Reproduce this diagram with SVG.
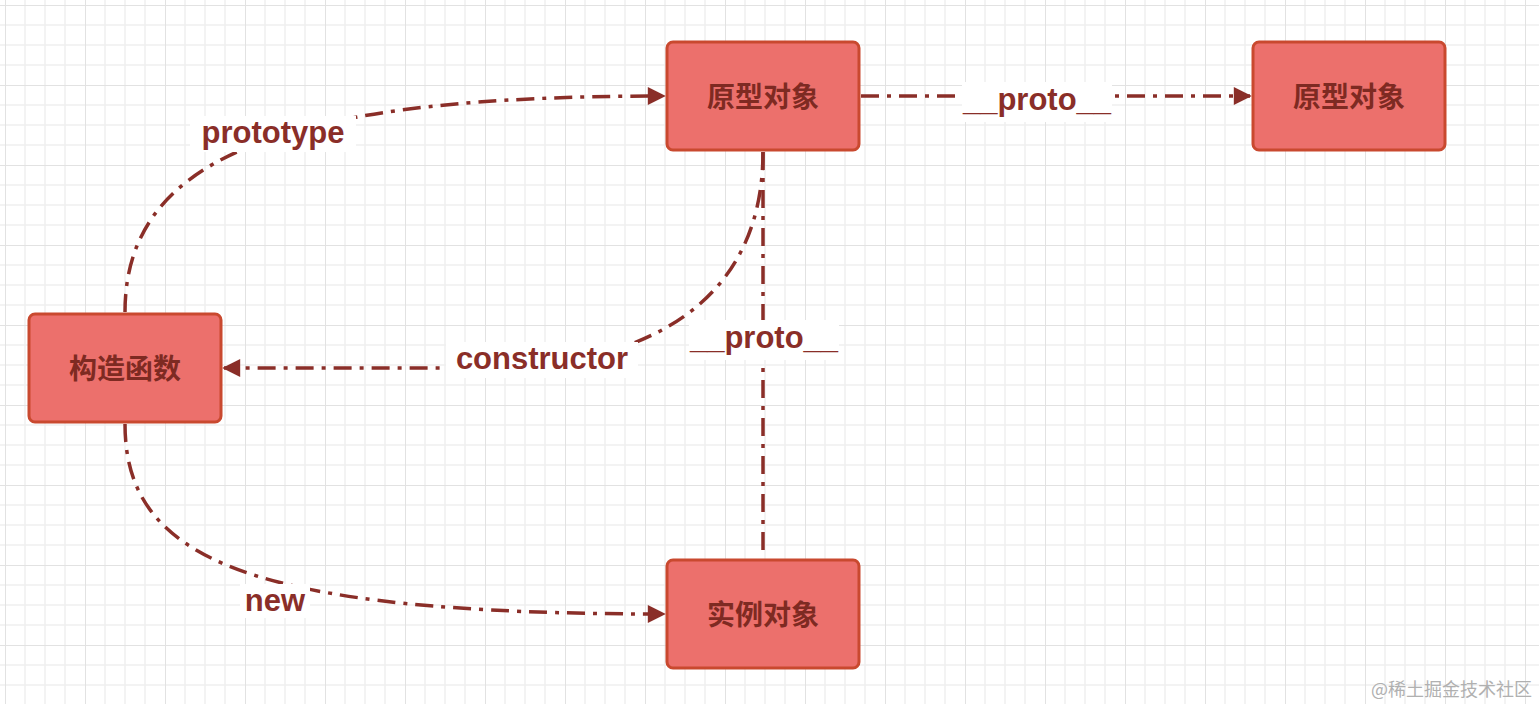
<svg xmlns="http://www.w3.org/2000/svg" width="1539" height="704" viewBox="0 0 1539 704">
<defs>
<pattern id="g" width="80" height="80" patternUnits="userSpaceOnUse" x="5" y="5">
<path d="M20 0V80M40 0V80M60 0V80M0 20H80M0 40H80M0 60H80" stroke="#efefef" stroke-width="1.5" fill="none"/>
<path d="M0 0V80M0 0H80" stroke="#e2e2e2" stroke-width="2" fill="none"/>
</pattern>
<marker id="a" viewBox="0 0 10 10" refX="9" refY="5" markerWidth="26" markerHeight="18" markerUnits="userSpaceOnUse" orient="auto"><path d="M0 0L10 5L0 10z" fill="#8a2e28"/></marker>
<style>
.n rect{fill:#ec706c;stroke:#c9492f;stroke-width:3}
.n text,.l{font-family:"Noto Sans CJK SC","Liberation Sans",sans-serif;font-weight:bold;font-size:28px;fill:#7e2a22;text-anchor:middle}
.c path{fill:none;stroke:#8a2e28;stroke-width:3.5;stroke-dasharray:18 8 4 8}
.l{font-family:"Liberation Sans",sans-serif;font-size:31px;fill:#8a2e28}
.bg{fill:#fff}
</style>
</defs>
<rect width="1539" height="704" fill="#fff"/>
<rect width="1539" height="704" fill="url(#g)"/>
<g class="c" id="connectors">
<path d="M125,312 C125,150 300,96 664,96" marker-end="url(#a)"/>
<path d="M861,96 L1250,96" marker-end="url(#a)"/>
<path d="M763,152 C763,300 650,368 480,368 L224,368" marker-end="url(#a)"/>
<path d="M763,152 L763,558"/>
<path d="M125,424 C125,560 250,614 664,614" marker-end="url(#a)"/>
</g>
<g id="labels">
<rect class="bg" x="190" y="116" width="166" height="36"/><text class="l" x="273" y="143">prototype</text>
<rect class="bg" x="962" y="82" width="150" height="40"/><text class="l" x="1037" y="110">__proto__</text>
<rect class="bg" x="446" y="342" width="192" height="36"/><text class="l" x="542" y="369">constructor</text>
<rect class="bg" x="689" y="320" width="150" height="40"/><text class="l" x="764" y="348">__proto__</text>
<rect class="bg" x="240" y="584" width="70" height="34"/><text class="l" x="275" y="611">new</text>
</g>
<g class="n" id="n1"><rect x="667" y="42" width="192" height="108" rx="6"/><text x="763" y="107">原型对象</text></g>
<g class="n" id="n2"><rect x="1253" y="42" width="192" height="108" rx="6"/><text x="1349" y="107">原型对象</text></g>
<g class="n" id="n3"><rect x="29" y="314" width="192" height="108" rx="6"/><text x="125" y="379">构造函数</text></g>
<g class="n" id="n4"><rect x="667" y="560" width="192" height="108" rx="6"/><text x="763" y="625">实例对象</text></g>
<text x="1532" y="696" font-family="Noto Sans CJK SC,sans-serif" font-size="18" fill="#b0b0b0" text-anchor="end">@稀土掘金技术社区</text>
</svg>
